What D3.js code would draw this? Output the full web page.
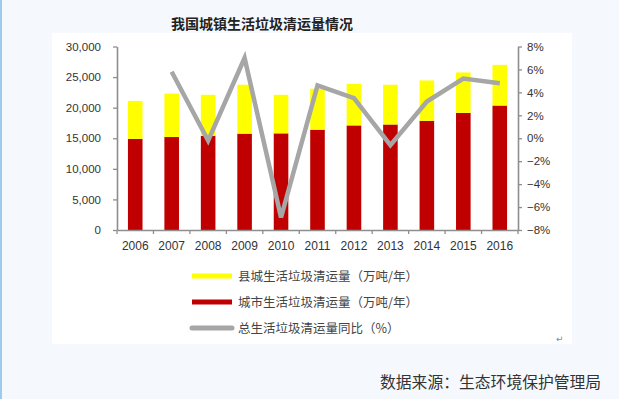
<!DOCTYPE html>
<html><head><meta charset="utf-8">
<script src="https://cdn.jsdelivr.net/npm/d3@7/dist/d3.min.js"></script>
<style>
html,body{margin:0;padding:0;background:#f5f9fe;}
svg{display:block;}
</style></head>
<body>
<svg id="c" width="619" height="399"></svg>
<script>
const years = ["2006","2007","2008","2009","2010","2011","2012","2013","2014","2015","2016"];
const cityValues = [14900, 15200, 15400, 15750, 15800, 16400, 17100, 17250, 17850, 19150, 20350];
const countyValues = [6200, 7100, 6700, 8000, 6300, 6700, 6800, 6500, 6600, 6600, 6650];
const growthRates = [null, 5.8, -0.2, 7.0, -6.9, 4.6, 3.5, -0.6, 3.2, 5.2, 4.8];
const leftTicks = [0, 5000, 10000, 15000, 20000, 25000, 30000];
const rightTicks = [-8, -6, -4, -2, 0, 2, 4, 6, 8];
const legendLabels = ["县城生活垃圾清运量（万吨/年）", "城市生活垃圾清运量（万吨/年）", "总生活垃圾清运量同比（%）"];
const titleText = "我国城镇生活垃圾清运量情况";
const sourceText = "数据来源：生态环境保护管理局";

const svg = d3.select("#c");
const axisColor = "#8e8e8e";
const yellow = "#ffff00", red = "#c00000", grey = "#a6a6a6";

// left border
svg.append("rect").attr("x",0).attr("y",0).attr("width",2).attr("height",399).attr("fill","#9dcbea");
// white panel
svg.append("rect").attr("x",52).attr("y",33).attr("width",520).attr("height",311).attr("fill","#ffffff");

// title
svg.append("text").attr("x",262).attr("y",29).attr("text-anchor","middle")
  .attr("font-family","'Noto Sans CJK SC'").attr("font-size",14).attr("font-weight","bold")
  .attr("fill","#222").text(titleText);

const x = d3.scaleBand().domain(years).range([117,518]).paddingInner(0.6).paddingOuter(0.3);
const y = d3.scaleLinear().domain([0,30000]).range([230,46.5]);
const y2 = d3.scaleLinear().domain([-8,8]).range([230,46.5]);

// bars
const g = svg.append("g");
g.selectAll("rect.city").data(years).join("rect").attr("class","city")
  .attr("x",d=>x(d)).attr("width",x.bandwidth())
  .attr("y",(d,i)=>y(cityValues[i])).attr("height",(d,i)=>y(0)-y(cityValues[i]))
  .attr("fill",red);
g.selectAll("rect.county").data(years).join("rect").attr("class","county")
  .attr("x",d=>x(d)).attr("width",x.bandwidth())
  .attr("y",(d,i)=>y(cityValues[i]+countyValues[i])).attr("height",(d,i)=>y(cityValues[i])-y(cityValues[i]+countyValues[i]))
  .attr("fill",yellow);

// line
const lineData = years.map((d,i)=>({year:d,v:growthRates[i]})).filter(d=>d.v!==null);
svg.append("path").datum(lineData)
  .attr("d", d3.line().x(d=>x(d.year)+x.bandwidth()/2).y(d=>y2(d.v)))
  .attr("fill","none").attr("stroke",grey).attr("stroke-width",4.5)
  .attr("stroke-linejoin","miter").attr("stroke-linecap","butt");

const fontNum = "'Liberation Sans', Arial, sans-serif";
function styleAxis(sel){
  sel.selectAll("path.domain").attr("stroke",axisColor).attr("stroke-width",1.6);
  sel.selectAll(".tick line").attr("stroke",axisColor).attr("stroke-width",1.3);
  sel.selectAll(".tick text").attr("fill","#333").attr("font-family",fontNum).attr("font-size",11.5);
}
// left axis
const la = svg.append("g").attr("transform","translate(117,0)")
  .call(d3.axisLeft(y).tickValues(leftTicks).tickFormat(d3.format(",")).tickSize(4).tickSizeOuter(0).tickPadding(12));
styleAxis(la);
// right axis
const ra = svg.append("g").attr("transform","translate(518,0)")
  .call(d3.axisRight(y2).tickValues(rightTicks).tickFormat(d=>d+"%").tickSize(4).tickSizeOuter(0).tickPadding(5));
styleAxis(ra);
ra.selectAll(".tick text").text(d=>(d<0?"\u2212"+Math.abs(d):d)+"%");
// bottom axis
const xa = svg.append("g").attr("transform","translate(0,230)")
  .call(d3.axisBottom(x).tickSize(0).tickPadding(11));
styleAxis(xa);
xa.selectAll(".tick text").attr("font-size",12);
const step = x.step();
xa.selectAll("line.bt").data(d3.range(years.length+1)).join("line").attr("class","bt")
  .attr("x1",i=>117+i*step).attr("x2",i=>117+i*step).attr("y1",0).attr("y2",4)
  .attr("stroke",axisColor).attr("stroke-width",1.3);

// legend
const legY = [276, 302, 328];
const legColors = [yellow, red, grey];
const leg = svg.append("g");
legendLabels.forEach((t,i)=>{
  leg.append("line").attr("x1",192).attr("x2",232).attr("y1",legY[i]).attr("y2",legY[i])
    .attr("stroke",legColors[i]).attr("stroke-width",i===2?5:5)
    .attr("stroke-linecap",i===2?"round":"butt");
  leg.append("text").attr("x",238).attr("y",legY[i]+4.5)
    .attr("font-family","'Noto Sans CJK SC'").attr("font-size",12.5).attr("fill","#444").text(t);
});

// return mark
svg.append("text").attr("x",556).attr("y",342).attr("font-size",9).attr("fill","#888")
  .attr("font-family","'DejaVu Sans'").text("\u21B5");

// source
svg.append("text").attr("x",380).attr("y",388).attr("font-family","'Noto Sans CJK SC'")
  .attr("font-size",15.8).attr("fill","#333").text(sourceText);
</script>
</body></html>
